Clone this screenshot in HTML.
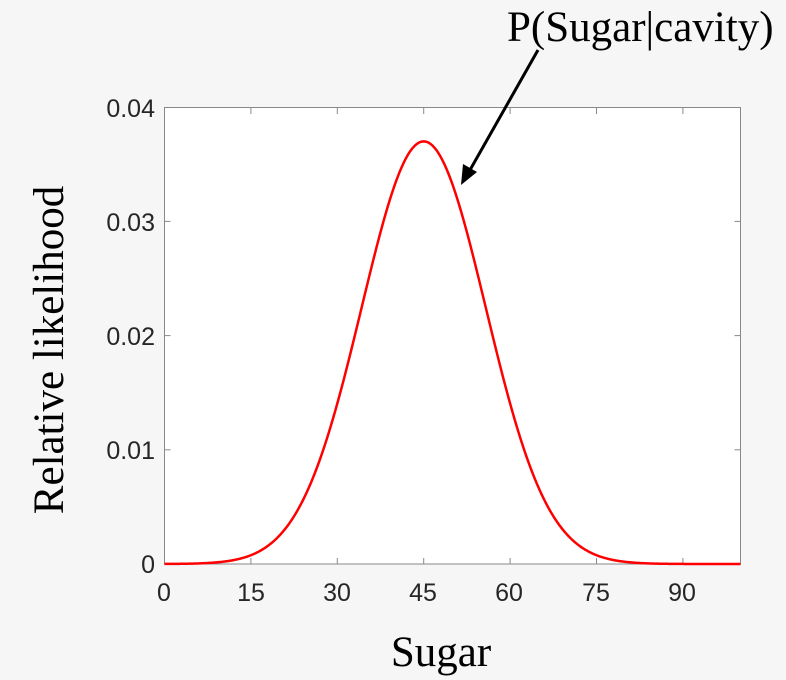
<!DOCTYPE html>
<html><head><style>
html,body{margin:0;padding:0;background:#f6f6f6;}
svg{display:block;}
</style></head><body>
<svg id="s" width="786" height="680" xmlns="http://www.w3.org/2000/svg">
<rect x="0" y="0" width="786" height="680" fill="#f6f6f6"/>
<rect x="164.5" y="107.5" width="576" height="456.5" fill="#fff" stroke="#888" stroke-width="1"/>
<g stroke="#888" stroke-width="1" id="ticks"></g>
<g font-family="Liberation Sans, sans-serif" font-size="25" fill="#262626">
<text x="164" y="601" text-anchor="middle">0</text>
<text x="251" y="601" text-anchor="middle">15</text>
<text x="337" y="601" text-anchor="middle">30</text>
<text x="423" y="601" text-anchor="middle">45</text>
<text x="509" y="601" text-anchor="middle">60</text>
<text x="596" y="601" text-anchor="middle">75</text>
<text x="682" y="601" text-anchor="middle">90</text>
<text x="155" y="573" text-anchor="end">0</text>
<text x="155" y="459" text-anchor="end">0.01</text>
<text x="155" y="345" text-anchor="end">0.02</text>
<text x="155" y="231" text-anchor="end">0.03</text>
<text x="155" y="117" text-anchor="end">0.04</text>
</g>
<path id="curve" fill="none" stroke="#ff0000" stroke-width="2.5"/>
<g font-family="Liberation Serif, serif" font-size="43" fill="#000">
<text x="441" y="666" text-anchor="middle">Sugar</text>
<text x="507" y="41">P(Sugar|cavity)</text>
<text transform="translate(63,350) rotate(-90)" text-anchor="middle">Relative likelihood</text>
</g>
<line x1="538" y1="50" x2="470" y2="170" stroke="#000" stroke-width="3"/>
<polygon points="461,185 463,164 477,172" fill="#000"/>
</svg>
<script>
var X=function(v){return 164.5+v*5.76};var Y=function(v){return 564-v*11420};
var d="",s=10.78,m=45;
for(var i=0;i<=400;i++){var x=i/4;var y=Math.exp(-(x-m)*(x-m)/(2*s*s))/(s*Math.sqrt(2*Math.PI));d+=(i?"L":"M")+X(x).toFixed(2)+","+Y(y).toFixed(2);}
document.getElementById("curve").setAttribute("d",d);
var t="";
[15,30,45,60,75,90].forEach(function(v){var x=X(v).toFixed(1);t+='<line x1="'+x+'" y1="564" x2="'+x+'" y2="558"/><line x1="'+x+'" y1="108" x2="'+x+'" y2="114"/>';});
[0.01,0.02,0.03].forEach(function(v){var y=Y(v).toFixed(1);t+='<line x1="164.5" y1="'+y+'" x2="170.5" y2="'+y+'"/><line x1="740.5" y1="'+y+'" x2="734.5" y2="'+y+'"/>';});
document.getElementById("ticks").innerHTML=t;
</script>
</body></html>
